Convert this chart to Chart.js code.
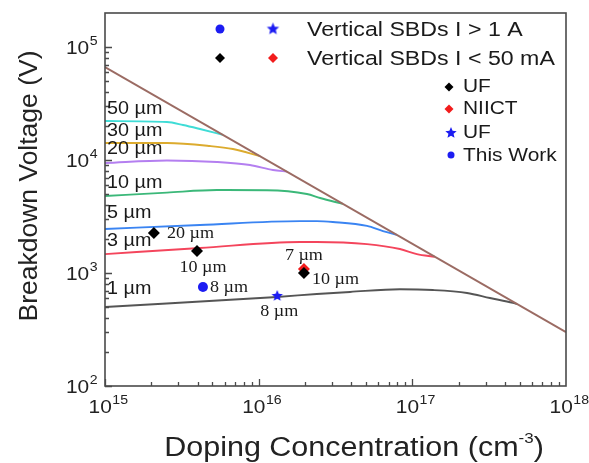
<!DOCTYPE html>
<html>
<head>
<meta charset="utf-8">
<style>
  html, body { margin: 0; padding: 0; background: #fff; }
  #wrap { width: 589px; height: 463px; }
</style>
</head>
<body>
<div id="wrap"><canvas id="bvChart" width="589" height="463"></canvas></div>
<script src="https://cdn.jsdelivr.net/npm/chart.js"></script>
<script>
  // axis ticks (decades)
  const dopingTicks = [1e15, 1e16, 1e17, 1e18];
  const dopingExp = ['15', '16', '17', '18'];
  const voltTicks = [1e2, 1e3, 1e4, 1e5];
  const voltExp = ['2', '3', '4', '5'];

  // ideal parallel-plane limit
  const idealLimit = [[1e15, 66500], [1e18, 300]];

  // punch-through curves for each drift layer thickness, [N, V]
  const epi50 = [[1e15, 22130], [2.53e15, 21680], [3.22e15, 20400], [4.15e15, 18800], [5.86e15, 16670]];
  const epi30 = [[1e15, 14130], [2.53e15, 14130], [4.82e15, 13300], [6.8e15, 12510], [1.02e16, 10840]];
  const epi20 = [[1e15, 9400], [2.53e15, 9900], [5.35e15, 9600], [8.78e15, 9030], [1.24e16, 8160], [1.53e16, 7890]];
  const epi10 = [[1e15, 4800], [2.53e15, 5150], [5.35e15, 5420], [1.13e16, 5400], [2.06e16, 5000], [2.51e16, 4610], [3.53e16, 4090]];
  const epi5 = [[1e15, 2450], [4.15e15, 2660], [1.86e16, 2880], [2.39e16, 2880], [3.04e16, 2830], [5.07e16, 2610], [6.44e16, 2350], [7.94e16, 2175]];
  const epi3 = [[1e15, 1470], [4.15e15, 1665], [1.86e16, 1880], [2.39e16, 1880], [5.07e16, 1800], [8.3e16, 1630], [1.07e17, 1470], [1.4e17, 1393]];
  const epi1 = [[1e15, 500], [1.32e16, 614], [2.39e16, 652], [3.93e16, 680], [8.3e16, 718], [1.36e17, 707], [2.27e17, 666], [3.2e17, 601], [4.51e17, 545], [4.8e17, 532]];

  const epiLabels = ['50 µm', '30 µm', '20 µm', '10 µm', '5 µm', '3 µm', '1 µm'];
  const epiLabelV = [28200, 18100, 12500, 6250, 3400, 1920, 720];

  // reported devices
  const ufLowN = [2.08e15, 3.97e15, 1.97e16];
  const ufLowV = [2260, 1567, 1000];
  const ufLowNote = ['20 µm', '10 µm', '10 µm'];
  const niictN = [1.97e16];
  const niictV = [1085];
  const niictNote = ['7 µm'];
  const ufHighN = [1.32e16];
  const ufHighV = [626];
  const ufHighNote = ['8 µm'];
  const thisWorkN = [4.34e15];
  const thisWorkV = [751];
  const thisWorkNote = ['8 µm'];

  const SX = 1.13; // text is a bit wide in the original
  const SANS = '"Liberation Sans", Arial, sans-serif';
  const SERIF = '"Liberation Serif", "Times New Roman", serif';

  function starCanvas(r, color) {
    const c = document.createElement('canvas');
    const s = Math.ceil(r * 2 + 2);
    c.width = s; c.height = s;
    const g = c.getContext('2d');
    g.fillStyle = color;
    g.beginPath();
    for (let i = 0; i < 10; i++) {
      const rad = i % 2 === 0 ? r : r * 0.45;
      const a = -Math.PI / 2 + i * Math.PI / 5;
      g.lineTo(s / 2 + rad * Math.cos(a), s / 2 + rad * Math.sin(a));
    }
    g.closePath();
    g.fill();
    return c;
  }

  function pairs(list) {
    return list.map(p => ({ x: p[0], y: p[1] }));
  }
  function zip(xs, ys) {
    return xs.map((x, i) => ({ x: x, y: ys[i] }));
  }

  function txt(ctx, s, x, y, font, align, color, sx) {
    ctx.save();
    ctx.font = font;
    ctx.fillStyle = color || '#111';
    ctx.textBaseline = 'middle';
    const k = sx || SX;
    const w = ctx.measureText(s).width * k;
    let x0 = x;
    if (align === 'center') x0 = x - w / 2;
    if (align === 'right') x0 = x - w;
    ctx.translate(x0, y);
    ctx.scale(k, 1);
    ctx.textAlign = 'left';
    ctx.fillText(s, 0, 0);
    ctx.restore();
    return w;
  }

  function powLabel(ctx, exp, x, y, align) {
    ctx.save();
    ctx.font = '18.5px ' + SANS;
    const wb = ctx.measureText('10').width * SX;
    ctx.font = '12.5px ' + SANS;
    const we = ctx.measureText(exp).width * SX;
    ctx.restore();
    let x0 = x;
    if (align === 'center') x0 = x - (wb + we) / 2;
    if (align === 'right') x0 = x - wb - we;
    txt(ctx, '10', x0, y, '18.5px ' + SANS, 'left', '#222');
    txt(ctx, exp, x0 + wb + 0.5, y - 7, '12.5px ' + SANS, 'left', '#222');
  }

  function diamond(ctx, x, y, r, color) {
    ctx.save();
    ctx.fillStyle = color;
    ctx.beginPath();
    ctx.moveTo(x, y - r); ctx.lineTo(x + r, y); ctx.lineTo(x, y + r); ctx.lineTo(x - r, y);
    ctx.closePath();
    ctx.fill();
    ctx.restore();
  }
  function dot(ctx, x, y, r, color) {
    ctx.save();
    ctx.fillStyle = color;
    ctx.beginPath();
    ctx.arc(x, y, r, 0, Math.PI * 2);
    ctx.fill();
    ctx.restore();
  }

  const BLUE = '#1c1cf2';
  const RED = '#f21c1c';
  const starImg = starCanvas(6, BLUE);
  const starLegend = starCanvas(6.5, BLUE);

  const decor = {
    id: 'decor',
    afterDatasetsDraw(chart) {
      const ctx = chart.ctx;
      const a = chart.chartArea;
      const xs = chart.scales.x, ys = chart.scales.y;

      // frame
      ctx.save();
      ctx.strokeStyle = '#4a4a4a';
      ctx.lineWidth = 1.6;
      ctx.strokeRect(a.left, a.top, a.right - a.left, a.bottom - a.top);

      // inward ticks
      ctx.lineWidth = 1.3;
      ctx.beginPath();
      for (let d = 15; d < 18; d++) {
        for (let m = 1; m < 10; m++) {
          const px = Math.round(xs.getPixelForValue(m * Math.pow(10, d))) + 0.5;
          const len = m === 1 ? 7 : 4;
          ctx.moveTo(px, a.bottom); ctx.lineTo(px, a.bottom - len);
        }
      }
      for (let d = 2; d < 6; d++) {
        for (let m = 1; m < 10; m++) {
          const v = m * Math.pow(10, d);
          if (v >= ys.max) break;
          const py = Math.round(ys.getPixelForValue(v)) + 0.5;
          const len = m === 1 ? 7 : 4;
          ctx.moveTo(a.left, py); ctx.lineTo(a.left + len, py);
        }
      }
      ctx.stroke();
      ctx.restore();

      // tick labels
      dopingTicks.forEach((v, i) => powLabel(ctx, dopingExp[i], xs.getPixelForValue(v) + 3, a.bottom + 22, 'center'));
      voltTicks.forEach((v, i) => powLabel(ctx, voltExp[i], a.left - 8, ys.getPixelForValue(v) + 2, 'right'));

      // axis titles
      const xt = 'Doping Concentration (cm';
      ctx.save();
      ctx.font = '27px ' + SANS;
      const w1 = ctx.measureText(xt).width * SX;
      ctx.font = '15px ' + SANS;
      const w2 = ctx.measureText('-3').width * SX;
      ctx.font = '27px ' + SANS;
      const w3 = ctx.measureText(')').width * SX;
      ctx.restore();
      const x0 = 354 - (w1 + w2 + w3) / 2;
      txt(ctx, xt, x0, 449, '27px ' + SANS, 'left', '#222');
      txt(ctx, '-3', x0 + w1, 439, '15px ' + SANS, 'left', '#222');
      txt(ctx, ')', x0 + w1 + w2, 449, '27px ' + SANS, 'left', '#222');

      ctx.save();
      ctx.translate(37, 186);
      ctx.rotate(-Math.PI / 2);
      ctx.font = '26.5px ' + SANS;
      ctx.fillStyle = '#222';
      ctx.textAlign = 'center';
      ctx.textBaseline = 'alphabetic';
      ctx.fillText('Breakdown Voltage (V)', 0, 0);
      ctx.restore();

      // thickness labels on the curves
      epiLabels.forEach((s, i) => txt(ctx, s, a.left + 2, ys.getPixelForValue(epiLabelV[i]), '17.5px ' + SANS, 'left', '#1a1a1a'));

      // device notes
      const noteFont = '16px ' + SERIF;
      const note = (n, v, s, dx, dy, align) =>
        txt(ctx, s, xs.getPixelForValue(n) + dx, ys.getPixelForValue(v) + dy, noteFont, align, '#1a1a1a');
      note(ufLowN[0], ufLowV[0], ufLowNote[0], 13, 1, 'left');
      note(ufLowN[1], ufLowV[1], ufLowNote[1], 6, 17, 'center');
      note(ufLowN[2], ufLowV[2], ufLowNote[2], 8, 7, 'left');
      note(niictN[0], niictV[0], niictNote[0], 0, -13, 'center');
      note(ufHighN[0], ufHighV[0], ufHighNote[0], 2, 16, 'center');
      note(thisWorkN[0], thisWorkV[0], thisWorkNote[0], 7, 1, 'left');

      // legend
      dot(ctx, 220, 29, 4.5, BLUE);
      ctx.drawImage(starLegend, 273 - starLegend.width / 2, 29 - starLegend.height / 2);
      txt(ctx, 'Vertical SBDs I > 1 A', 307, 30, '20.5px ' + SANS, 'left', '#1a1a1a');
      diamond(ctx, 220, 58, 5, '#000');
      diamond(ctx, 273, 58, 5, RED);
      txt(ctx, 'Vertical SBDs I < 50 mA', 307, 59, '20.5px ' + SANS, 'left', '#1a1a1a');

      diamond(ctx, 449, 87, 4.5, '#000');
      txt(ctx, 'UF', 463, 87, '18.5px ' + SANS, 'left', '#1a1a1a');
      diamond(ctx, 449, 109, 4.5, RED);
      txt(ctx, 'NIICT', 463, 109, '18.5px ' + SANS, 'left', '#1a1a1a');
      ctx.drawImage(starImg, 451 - starImg.width / 2, 133 - starImg.height / 2);
      txt(ctx, 'UF', 463, 133, '18.5px ' + SANS, 'left', '#1a1a1a');
      dot(ctx, 451, 155, 3.5, BLUE);
      txt(ctx, 'This Work', 463, 156, '18.5px ' + SANS, 'left', '#1a1a1a');
    }
  };

  function curve(data, color) {
    return {
      data: pairs(data),
      showLine: true,
      borderColor: color,
      borderWidth: 1.9,
      pointRadius: 0,
      cubicInterpolationMode: 'monotone',
      order: 3
    };
  }

  new Chart(document.getElementById('bvChart'), {
    type: 'scatter',
    data: {
      datasets: [
        { data: zip(ufLowN, ufLowV), pointStyle: 'rectRot', pointRadius: 6, backgroundColor: '#000', borderWidth: 0, order: 0 },
        { data: zip(ufHighN, ufHighV), pointStyle: starImg, backgroundColor: BLUE, order: 0 },
        { data: zip(thisWorkN, thisWorkV), pointStyle: 'circle', pointRadius: 5, backgroundColor: BLUE, borderWidth: 0, order: 0 },
        { data: zip(niictN, niictV), pointStyle: 'rectRot', pointRadius: 6, backgroundColor: RED, borderWidth: 0, order: 1 },
        Object.assign(curve(idealLimit, '#9b6b63'), { order: 2, cubicInterpolationMode: 'default', tension: 0 }),
        curve(epi50, '#3fdcd6'),
        curve(epi30, '#dcab2e'),
        curve(epi20, '#b47ff0'),
        curve(epi10, '#3bb879'),
        curve(epi5, '#3a84f2'),
        curve(epi3, '#f4455c'),
        curve(epi1, '#555555')
      ]
    },
    options: {
      responsive: false,
      animation: false,
      layout: { padding: { left: 105, right: 23, top: 13, bottom: 77 } },
      plugins: { legend: { display: false }, tooltip: { enabled: false } },
      scales: {
        x: { type: 'logarithmic', min: 1e15, max: 1e18, display: false },
        y: { type: 'logarithmic', min: 100, max: 2e5, display: false }
      }
    },
    plugins: [decor]
  });
</script>
</body>
</html>
